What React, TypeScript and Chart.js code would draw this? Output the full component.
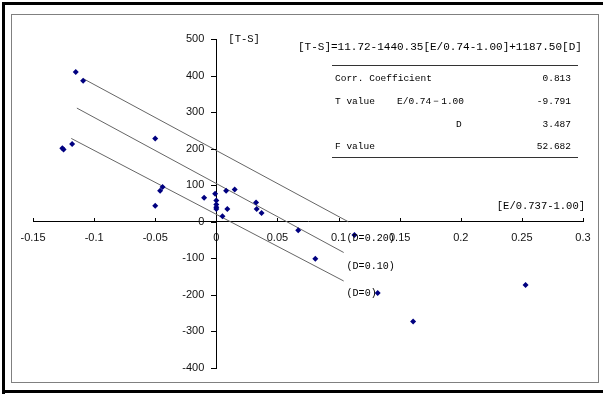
import React, { useEffect, useRef } from 'react';
import { Chart, registerables } from 'chart.js';

Chart.register(...registerables);

// Observed points: E/0.737-1.00 (x) and T-S (y)
const pointX = [-0.115, -0.109, -0.126, -0.125, -0.118, -0.05, -0.05, -0.046, -0.044, -0.01, -0.001, 0, 0, 0, 0, 0.005, 0.008, 0.009, 0.015, 0.0325, 0.033, 0.037, 0.067, 0.081, 0.113, 0.132, 0.161, 0.253];
const pointY = [410, 386, 201, 198, 213, 228, 44, 85, 95, 66, 77, 58, 47, 40, 35, 15, 85, 35, 88, 53, 35, 24, -23, -101, -36, -195, -273, -173];

// Regression lines (D = 0.20, 0.10, 0)
const lineLabels = ['(D=0.20)', '(D=0.10)', '(D=0)'];
const lineStartX = [-0.1086, -0.1141, -0.1187];
const lineStartY = [391, 311, 228];
const lineEndX = [0.108, 0.1042, 0.1042];
const lineEndY = [0, -84, -162];
const lineLabelY = [-44, -121, -195];

const xTicks = [-0.15, -0.1, -0.05, 0, 0.05, 0.1, 0.15, 0.2, 0.25, 0.3];
const yTicks = [-400, -300, -200, -100, 0, 100, 200, 300, 400, 500];

const xTitle = '[E/0.737-1.00]';
const yTitle = '[T-S]';
const equation = '[T-S]=11.72-1440.35[E/0.74-1.00]+1187.50[D]';
const tableLabels = ['Corr. Coefficient', 'T value', '', 'F value'];
const tableTerms = ['', 'E/0.74\uFF0D1.00', 'D', ''];
const tableValues = ['0.813', '-9.791', '3.487', '52.682'];

const MONO = '"Liberation Mono", "DejaVu Sans Mono", monospace';
const SANS = '"Liberation Sans", Arial, sans-serif';

const decoPlugin = {
  id: 'deco',
  beforeDraw(chart: any) {
    const ctx = chart.ctx;
    ctx.save();
    ctx.fillStyle = '#fff';
    ctx.fillRect(0, 0, chart.width, chart.height);
    ctx.fillStyle = '#000';
    ctx.fillRect(2, 2, 601, 3);
    ctx.fillRect(2, 2, 3, 392);
    ctx.fillRect(2, 390, 601, 3);
    ctx.strokeStyle = '#808080';
    ctx.lineWidth = 1;
    ctx.strokeRect(11.5, 14.5, 587, 368);
    ctx.restore();
  },
  afterDraw(chart: any) {
    const ctx = chart.ctx;
    const xs = chart.scales.x;
    const ys = chart.scales.y;
    ctx.save();
    const y0 = Math.round(ys.getPixelForValue(0));
    const x0 = xs.getPixelForValue(0);
    const x0r = Math.round(x0);
    ctx.strokeStyle = '#000';
    ctx.lineWidth = 1;
    ctx.beginPath();
    // x-axis tick marks pointing up
    xTicks.forEach((v) => {
      const px = Math.round(xs.getPixelForValue(v)) + 0.5;
      ctx.moveTo(px, y0);
      ctx.lineTo(px, y0 - 4);
    });
    // y-axis tick marks pointing left
    yTicks.forEach((v) => {
      const py = Math.round(ys.getPixelForValue(v)) + 0.5;
      ctx.moveTo(x0r - 5, py);
      ctx.lineTo(x0r, py);
    });
    ctx.stroke();

    // y-axis tick labels, left of the tick marks
    ctx.fillStyle = '#111';
    ctx.font = '11px ' + SANS;
    ctx.textAlign = 'right';
    ctx.textBaseline = 'middle';
    yTicks.forEach((v) => {
      ctx.fillText(String(v), x0 - 12, ys.getPixelForValue(v));
    });

    ctx.fillStyle = '#000';
    // axis titles
    ctx.font = '10.5px ' + MONO;
    ctx.textAlign = 'left';
    ctx.fillText(yTitle, x0 + 12, ys.getPixelForValue(500));
    ctx.textAlign = 'right';
    ctx.fillText(xTitle, xs.getPixelForValue(0.3) + 2, ys.getPixelForValue(0) - 16);

    // line labels
    ctx.font = '10px ' + MONO;
    ctx.textAlign = 'left';
    lineLabels.forEach((t, i) => {
      ctx.fillText(t, xs.getPixelForValue(0.1066), ys.getPixelForValue(lineLabelY[i]));
    });

    // equation
    ctx.font = '11px ' + MONO;
    ctx.textAlign = 'left';
    ctx.fillText(equation, 298, 47);

    // table
    ctx.strokeStyle = '#333';
    ctx.beginPath();
    ctx.moveTo(332, 65.5);
    ctx.lineTo(578, 65.5);
    ctx.moveTo(332, 157.5);
    ctx.lineTo(578, 157.5);
    ctx.stroke();
    ctx.font = '9.5px ' + MONO;
    const rowY = [78, 101, 124, 146];
    const termX = [0, 397, 456, 0];
    rowY.forEach((ry, i) => {
      ctx.textAlign = 'left';
      if (tableLabels[i]) ctx.fillText(tableLabels[i], 335, ry);
      if (tableTerms[i]) ctx.fillText(tableTerms[i], termX[i], ry);
      ctx.textAlign = 'right';
      ctx.fillText(tableValues[i], 571, ry);
    });
    ctx.restore();
  },
};

export default function App() {
  const ref = useRef<HTMLCanvasElement>(null);
  useEffect(() => {
    document.body.style.margin = '0';
    const pts = pointX.map((x, i) => ({ x, y: pointY[i] }));
    const lineSets = lineLabels.map((label, i) => ({
      label,
      data: [
        { x: lineStartX[i], y: lineStartY[i] },
        { x: lineEndX[i], y: lineEndY[i] },
      ],
      showLine: true,
      borderColor: '#666666',
      borderWidth: 1,
      pointRadius: 0,
      fill: false,
    }));
    const chart = new Chart(ref.current as HTMLCanvasElement, {
      type: 'scatter',
      data: {
        datasets: [
          {
            label: 'data',
            data: pts,
            pointStyle: 'rectRot',
            pointRadius: 3,
            backgroundColor: '#000080',
            borderColor: '#000080',
            borderWidth: 0,
          } as any,
          ...(lineSets as any[]),
        ],
      },
      options: {
        responsive: false,
        animation: false,
        devicePixelRatio: 1,
        layout: { padding: { left: 33, right: 20, top: 39, bottom: 26 } },
        plugins: { legend: { display: false }, tooltip: { enabled: false } },
        scales: {
          x: {
            type: 'linear',
            position: { y: 0 } as any,
            min: -0.15,
            max: 0.3,
            afterBuildTicks: (s: any) => {
              s.ticks = xTicks.map((v) => ({ value: v }));
            },
            grid: { drawOnChartArea: false, drawTicks: false },
            border: { color: '#000', width: 1 },
            ticks: {
              padding: 10,
              color: '#111',
              autoSkip: false,
              maxRotation: 0,
              font: { family: SANS, size: 11 },
              callback: (v: any) => String(v),
            },
          },
          y: {
            type: 'linear',
            position: { x: 0 } as any,
            min: -400,
            max: 500,
            afterBuildTicks: (s: any) => {
              s.ticks = yTicks.map((v) => ({ value: v }));
            },
            grid: { drawOnChartArea: false, drawTicks: false },
            border: { color: '#000', width: 1 },
            ticks: {
              display: false,
              autoSkip: false,
            },
          },
        },
      },
      plugins: [decoPlugin],
    });
    return () => chart.destroy();
  }, []);
  return (
    <canvas
      ref={ref}
      width={603}
      height={394}
      style={{ display: 'block', width: 603, height: 394 }}
    />
  );
}
